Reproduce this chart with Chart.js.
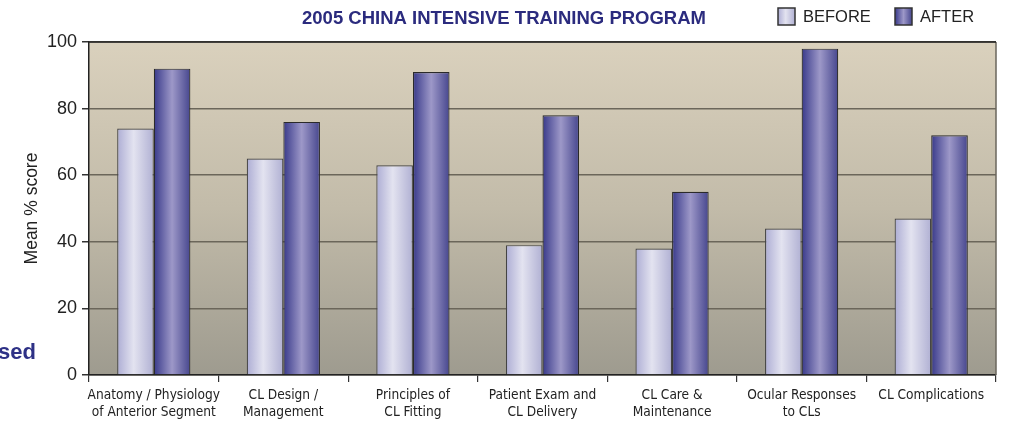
<!DOCTYPE html>
<html><head><meta charset="utf-8">
<script src="https://cdn.jsdelivr.net/npm/chart.js@4"></script>
<style>html,body{margin:0;padding:0;background:#fff}#wrap{width:1023px;height:421px;position:relative}</style>
</head><body><div id="wrap"><canvas id="c" width="1023" height="421"></canvas></div>
<script>
const categories = [
  ["Anatomy / Physiology","of Anterior Segment"],
  ["CL Design /","Management"],
  ["Principles of","CL Fitting"],
  ["Patient Exam and","CL Delivery"],
  ["CL Care &","Maintenance"],
  ["Ocular Responses","to CLs"],
  ["CL Complications"]
];
const beforeValues = [74, 65, 63, 39, 38, 44, 47];
const afterValues  = [92, 76, 91, 78, 55, 98, 72];
const seriesNames = ["BEFORE", "AFTER"];
const yTicks = [0, 20, 40, 60, 80, 100];
const chartTitle = "2005 CHINA INTENSIVE TRAINING PROGRAM";
const yTitle = "Mean % score";
const sideText = "sed";

const NARROW = "'DejaVu Sans Condensed', 'Liberation Sans Narrow', 'Liberation Sans', Arial, sans-serif";
const SANS = "'Liberation Sans', Arial, Helvetica, sans-serif";
const CAT_PCT = 0.565;

const barStops = [
  [[0,'#adadd4'],[0.45,'#e3e3f0'],[1,'#b0b0d3']],
  [[0,'#38398a'],[0.5,'#9d98c8'],[1,'#46468e']]
];

function barFill(c) {
  const chart = c.chart;
  const a = chart.chartArea;
  const sx = chart.scales.x;
  if (!a || !sx || c.dataIndex === undefined) return barStops[c.datasetIndex][1][1];
  const n = chart.data.labels.length;
  const catW = (a.right - a.left) / n;
  const bw = catW * CAT_PCT / 2;
  const cx = sx.getPixelForValue(c.dataIndex);
  const x0 = c.datasetIndex === 0 ? cx - bw : cx;
  const g = chart.ctx.createLinearGradient(x0, 0, x0 + bw, 0);
  barStops[c.datasetIndex].forEach(s => g.addColorStop(s[0], s[1]));
  return g;
}

const decor = {
  id: 'decor',
  beforeDraw(chart) {
    const {ctx, chartArea: a} = chart;
    const g = ctx.createLinearGradient(0, a.top, 0, a.bottom);
    g.addColorStop(0, '#dad1bd');
    g.addColorStop(0.5, '#c2bba9');
    g.addColorStop(1, '#9e9b8f');
    ctx.save();
    ctx.fillStyle = g;
    ctx.fillRect(a.left, a.top, a.right - a.left, a.bottom - a.top);
    ctx.restore();
  },
  afterDraw(chart) {
    const {ctx, chartArea: a} = chart;
    ctx.save();
    ctx.strokeStyle = '#6a665c';
    ctx.lineWidth = 1.5;
    ctx.beginPath();
    ctx.moveTo(a.right, a.top); ctx.lineTo(a.right, a.bottom);
    ctx.stroke();
    ctx.strokeStyle = '#222';
    ctx.beginPath();
    ctx.moveTo(a.left, a.top); ctx.lineTo(a.right, a.top);
    ctx.stroke();
    // title
    ctx.fillStyle = '#2b2b7e';
    ctx.font = "bold 18.5px " + SANS;
    ctx.textAlign = 'center';
    ctx.textBaseline = 'middle';
    ctx.fillText(chartTitle, 504, 19);
    // legend
    const items = [{x: 778, text: seriesNames[0], di: 0}, {x: 895, text: seriesNames[1], di: 1}];
    items.forEach(it => {
      const g = ctx.createLinearGradient(it.x, 0, it.x + 17, 0);
      barStops[it.di].forEach(s => g.addColorStop(s[0], s[1]));
      ctx.fillStyle = g;
      ctx.fillRect(it.x, 8, 17, 17);
      ctx.strokeStyle = '#333';
      ctx.lineWidth = 1.5;
      ctx.strokeRect(it.x, 8, 17, 17);
      ctx.fillStyle = '#222';
      ctx.font = "16.5px " + SANS;
      ctx.textAlign = 'left';
      ctx.fillText(it.text, it.x + 25, 17);
    });
    // side text
    ctx.fillStyle = '#2e3186';
    ctx.font = "bold 22px " + SANS;
    ctx.textAlign = 'left';
    ctx.fillText(sideText, -2, 353);
    ctx.restore();
  }
};

new Chart(document.getElementById('c'), {
  type: 'bar',
  data: {
    labels: categories,
    datasets: [
      {label: seriesNames[0], data: beforeValues, borderColor: '#444', borderWidth: 1.2, backgroundColor: barFill},
      {label: seriesNames[1], data: afterValues, borderColor: '#2a2a2a', borderWidth: 1.2, backgroundColor: barFill}
    ]
  },
  plugins: [decor],
  options: {
    responsive: false,
    animation: false,
    events: [],
    layout: {padding: {left: 0, right: 27, top: 42, bottom: 0}},
    datasets: {bar: {categoryPercentage: CAT_PCT, barPercentage: 1.0}},
    plugins: {legend: {display: false}, title: {display: false}, tooltip: {enabled: false}},
    scales: {
      x: {
        offset: true,
        grid: {display: true, drawOnChartArea: false, drawTicks: true, tickLength: 7, color: '#333', lineWidth: 1.2, offset: true},
        border: {display: true, color: '#222', width: 1.5},
        ticks: {color: '#222', font: {family: NARROW, size: 13.6, lineHeight: 1.25}, maxRotation: 0, autoSkip: false, padding: 5},
        afterFit(s) { s.height = 46; }
      },
      y: {
        min: 0, max: 100,
        afterBuildTicks(s) { s.ticks = yTicks.map(v => ({value: v})); },
        grid: {color: '#6b665a', lineWidth: 1.5, tickLength: 7, drawTicks: true, tickColor: '#333'},
        border: {display: true, color: '#222', width: 1.5},
        ticks: {color: '#222', font: {family: SANS, size: 18}, padding: 5},
        title: {display: true, text: yTitle, color: '#222', font: {family: SANS, size: 17.5}, padding: {top: 22, bottom: 0}},
        afterFit(s) { s.width = 89; }
      }
    }
  }
});
</script>
</body></html>
